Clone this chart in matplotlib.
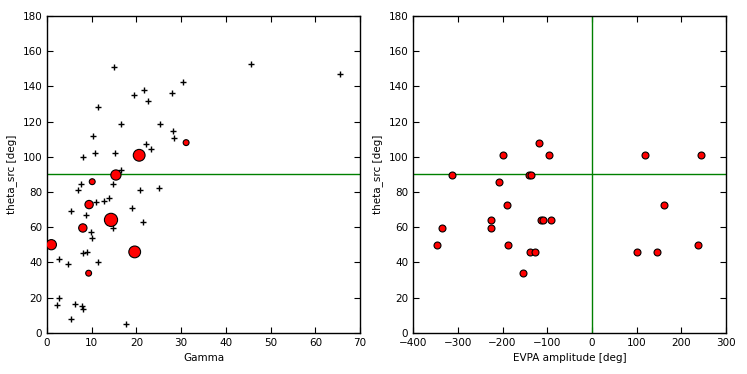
import matplotlib
matplotlib.use("Agg")
import matplotlib.pyplot as plt

# all sources: gamma vs theta_src
gamma_all = [15.0, 45.6, 65.5, 30.5, 21.6, 19.5, 28.0, 22.6, 11.3, 16.5,
             25.2, 10.2, 28.1, 28.4, 22.1, 23.3, 8.05, 10.7, 15.2, 16.6,
             14.8, 7.67, 6.86, 20.8, 25.1, 13.8, 12.7, 11.0, 5.4, 8.7,
             18.9, 21.4, 14.7, 9.9, 10.0, 8.0, 8.9, 2.76, 4.7, 11.3,
             2.76, 2.3, 6.2, 7.8, 8.1, 5.4, 17.6]
theta_all = [151.0, 152.6, 146.9, 142.3, 138.0, 135.3, 136.3, 131.7, 128.3, 118.9,
             118.9, 112.0, 114.9, 110.7, 107.5, 104.7, 100.1, 102.2, 102.2, 92.7,
             84.8, 84.4, 81.4, 81.4, 82.5, 76.7, 75.0, 74.4, 69.1, 67.2,
             71.2, 63.2, 59.8, 57.5, 54.1, 45.3, 46.2, 42.2, 39.2, 40.3,
             19.9, 15.9, 16.5, 15.5, 13.8, 7.6, 5.3]

# sources with EVPA rotations (size = number of rotations)
gamma_rot = [31.1, 20.6, 15.4, 10.1, 9.4, 14.3, 8.0, 0.96, 19.6, 9.3]
theta_rot = [108.1, 100.9, 89.7, 85.9, 72.9, 64.2, 59.6, 50.1, 46.0, 33.9]
n_rot = [1, 4, 3, 1, 2, 5, 2, 3, 4, 1]

# individual rotations
evpa_amp = [-312, -199, -119, -97, -141, -136, 119, 243, -208, -191,
            -225, -225, -347, -335, -187, -154, -139, -128, -115, -109,
            -92, 101, 145, 162, 238]
theta_evpa = [89.7, 100.9, 108.1, 100.9, 89.7, 89.7, 100.9, 100.9, 85.9, 72.9,
              64.2, 59.6, 50.1, 59.6, 50.1, 33.9, 46.0, 46.0, 64.2, 64.2,
              64.2, 46.0, 46.0, 72.9, 50.1]

plt.rcParams['font.size'] = 7.5
plt.rcParams['xtick.direction'] = 'in'
plt.rcParams['ytick.direction'] = 'in'
plt.rcParams['xtick.top'] = True
plt.rcParams['ytick.right'] = True

fig = plt.figure(figsize=(7.47, 3.74), dpi=100)
ax1 = fig.add_axes([0.063, 0.110, 0.419, 0.847])
ax2 = fig.add_axes([0.553, 0.110, 0.419, 0.847])

ax1.plot(gamma_all, theta_all, 'k+', ms=4, mew=1)
ax1.scatter(gamma_rot, theta_rot, s=[18 * n for n in n_rot], c='red',
            edgecolors='black', linewidths=0.8, zorder=3)
ax1.axhline(90, color='green', lw=1)
ax1.set_xlim(0, 70)
ax1.set_ylim(0, 180)
ax1.set_xlabel('Gamma')
ax1.set_ylabel('theta_src [deg]')

ax2.scatter(evpa_amp, theta_evpa, s=25, c='red', edgecolors='black',
            linewidths=0.8, zorder=3)
ax2.axhline(90, color='green', lw=1)
ax2.axvline(0, color='green', lw=1)
ax2.set_xlim(-400, 300)
ax2.set_ylim(0, 180)
ax2.set_xlabel('EVPA amplitude [deg]')
ax2.set_ylabel('theta_src [deg]')

for ax in (ax1, ax2):
    ax.tick_params(length=4, width=0.8)
    for sp in ax.spines.values():
        sp.set_linewidth(1)

fig.savefig('out.png', dpi=100)
